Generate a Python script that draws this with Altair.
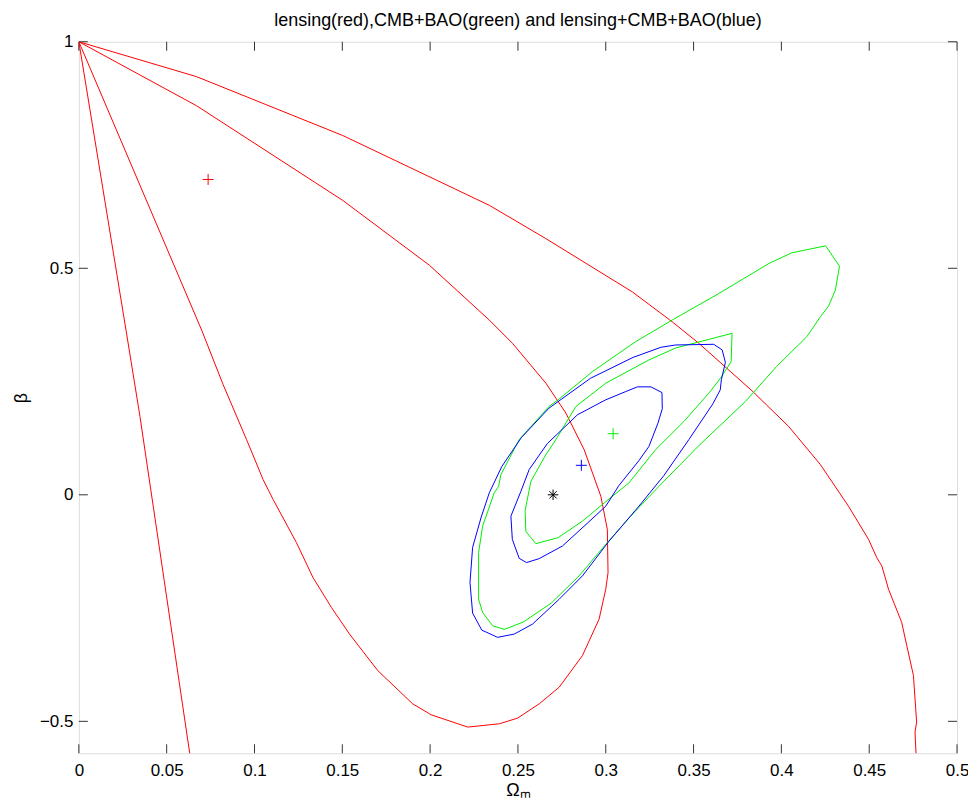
import altair as alt
import pandas as pd

# ---------------- data ----------------
# red: lensing contours
red_a_x = [0.0, 0.067, 0.1503, 0.2337, 0.2659, 0.3151, 0.3378, 0.3530, 0.3833, 0.4041,
           0.4222, 0.4382, 0.4496, 0.4543, 0.4572, 0.4610, 0.4685, 0.4714, 0.4752, 0.4761,
           0.4770, 0.4761, 0.4767]
red_a_y = [1.0, 0.923, 0.793, 0.639, 0.5655, 0.448, 0.382, 0.3344, 0.2295, 0.151,
           0.0667, -0.0251, -0.0983, -0.1386, -0.157, -0.2084, -0.2816, -0.3331, -0.399, -0.4504,
           -0.5017, -0.5237, -0.575]

red_b_x = [0.0, 0.067, 0.1503, 0.1996, 0.2337, 0.2469, 0.2659, 0.2773, 0.2877, 0.2972,
           0.3009, 0.3013, 0.3000, 0.2962, 0.2867, 0.2735, 0.2621, 0.2498, 0.2394, 0.2214,
           0.2006, 0.1901, 0.1702, 0.1541, 0.1438, 0.1333, 0.1239, 0.1106, 0.1049, 0.0955,
           0.0822, 0.0699, 0.0]
red_b_y = [1.0, 0.8588, 0.6497, 0.5067, 0.3857, 0.3344, 0.2464, 0.1804, 0.0997, -0.0031,
           -0.0763, -0.1716, -0.2084, -0.2744, -0.3551, -0.4246, -0.4614, -0.4929, -0.5054, -0.5127,
           -0.4856, -0.4614, -0.3881, -0.3074, -0.2486, -0.1826, -0.1056, -0.0103, 0.0337, 0.1217,
           0.2427, 0.3637, 1.0]

red_c_x = [0.0, 0.0273, 0.0348, 0.0633]
red_c_y = [1.0, 0.3527, 0.1729, -0.575]

# green: CMB+BAO contours
green_out_x = [0.4252, 0.4331, 0.4307, 0.4269, 0.4222, 0.4145, 0.3973, 0.3795, 0.3530, 0.3303,
               0.3142, 0.3000, 0.2848, 0.2689, 0.2530, 0.2422, 0.2356, 0.2299, 0.2276, 0.2276,
               0.2299, 0.2365, 0.2390, 0.2403, 0.2507, 0.2677, 0.2729, 0.2924, 0.3170, 0.3378,
               0.3644, 0.3928, 0.4060, 0.4252]
green_out_y = [0.5496, 0.5045, 0.4517, 0.4165, 0.393, 0.349, 0.2834, 0.2059, 0.1085, 0.0189,
               -0.0471, -0.1094, -0.1791, -0.2392, -0.281, -0.297, -0.2891, -0.2596, -0.2304, -0.1276,
               -0.0691, 0.0044, 0.0189, 0.0447, 0.1217, 0.1949, 0.2097, 0.2719, 0.338, 0.3857,
               0.4444, 0.5104, 0.5342, 0.5496]

green_in_x = [0.3719, 0.3714, 0.3653, 0.3587, 0.3445, 0.3284, 0.3132, 0.2981, 0.2867, 0.2729,
              0.2602, 0.2545, 0.2541, 0.2574, 0.2659, 0.2716, 0.2830, 0.3000, 0.3246, 0.3398,
              0.3719]
green_in_y = [0.3564, 0.2939, 0.2574, 0.2244, 0.1619, 0.0997, 0.0264, -0.0213, -0.0581, -0.0946,
              -0.1078, -0.0807, -0.0345, 0.0299, 0.0887, 0.1217, 0.1949, 0.2464, 0.2977, 0.3241,
              0.3564]

# blue: lensing+CMB+BAO contours
blue_out_x = [0.3615, 0.3663, 0.3681, 0.3658, 0.3652, 0.3610, 0.3473, 0.3331, 0.3189, 0.3019,
              0.2867, 0.2735, 0.2583, 0.2479, 0.2384, 0.2294, 0.2242, 0.2227, 0.2242, 0.2291,
              0.2337, 0.2408, 0.2519, 0.2677, 0.2914, 0.3155, 0.3314, 0.3398, 0.3615]
blue_out_y = [0.3322, 0.3197, 0.2922, 0.2537, 0.2317, 0.2009, 0.1217, 0.0425, -0.0251, -0.1021,
              -0.1791, -0.2304, -0.2854, -0.3074, -0.3146, -0.2986, -0.2612, -0.1936, -0.116, -0.049,
              0.0044, 0.0623, 0.1261, 0.1914, 0.2574, 0.3032, 0.3256, 0.3307, 0.3322]

blue_in_x = [0.3180, 0.3257, 0.3320, 0.3322, 0.3297, 0.3246, 0.3189, 0.3075, 0.3000, 0.2894,
             0.2753, 0.2621, 0.2549, 0.2507, 0.2468, 0.2460, 0.2517, 0.2564, 0.2667, 0.2839,
             0.3000, 0.3114, 0.3180]
blue_in_y = [0.2383, 0.2383, 0.2257, 0.1899, 0.158, 0.1069, 0.0755, 0.0205, -0.0251, -0.0632,
             -0.1131, -0.1408, -0.1496, -0.1402, -0.0983, -0.0471, 0.0079, 0.0557, 0.1129, 0.1767,
             0.2097, 0.2279, 0.2383]

# best-fit markers
plus_x = [0.0736, 0.3042, 0.2861]
plus_y = [0.696, 0.1349, 0.0651]
plus_c = ["red", "green", "blue"]
star_x = [0.270]
star_y = [0.0]

x_ticks = [0, 0.05, 0.1, 0.15, 0.2, 0.25, 0.3, 0.35, 0.4, 0.45, 0.5]
y_ticks = [-0.5, 0, 0.5, 1]

title_text = "lensing(red),CMB+BAO(green) and lensing+CMB+BAO(blue)"

# ---------------- build table ----------------
curves = [
    ("red_a", "red", red_a_x, red_a_y),
    ("red_b", "red", red_b_x, red_b_y),
    ("red_c", "red", red_c_x, red_c_y),
    ("green_out", "green", green_out_x, green_out_y),
    ("green_in", "green", green_in_x, green_in_y),
    ("blue_out", "blue", blue_out_x, blue_out_y),
    ("blue_in", "blue", blue_in_x, blue_in_y),
]
rows = []
for name, col, xs, ys in curves:
    for i, (a, b) in enumerate(zip(xs, ys)):
        rows.append({"curve": name, "c": col, "x": a, "y": b, "o": i})
lines_df = pd.DataFrame(rows)
plus_df = pd.DataFrame({"x": plus_x, "y": plus_y, "c": plus_c})
star_df = pd.DataFrame({"x": star_x, "y": star_y})
xt_df = pd.DataFrame({"v": x_ticks})
yt_df = pd.DataFrame({"v": y_ticks})

W, H = 880, 713
FONT = "Liberation Sans"

xscale = alt.Scale(domain=[0, 0.5], nice=False, zero=False)
yscale = alt.Scale(domain=[-0.5705, 1], nice=False, zero=False)
cscale = alt.Scale(domain=["red", "green", "blue"], range=["#ff0000", "#00ee00", "#0000ff"])

xaxis = alt.Axis(values=x_ticks, format="~g", title="Ωₘ", ticks=False, tickSize=0,
                 domain=False, grid=False, labelPadding=9, titlePadding=3, labelFlush=False,
                 labelFontSize=17, titleFontSize=18, labelFont=FONT, titleFont=FONT,
                 titleFontWeight="normal", labelColor="black", titleColor="black")
yaxis = alt.Axis(values=y_ticks, format="~g", title="β", ticks=False, tickSize=0,
                 domain=False, grid=False, labelPadding=6, titlePadding=9, labelFlush=False,
                 labelFontSize=17, titleFontSize=18, labelFont=FONT, titleFont=FONT,
                 titleFontWeight="normal", labelColor="black", titleColor="black")

lines = alt.Chart(lines_df).mark_line(strokeWidth=1, clip=True).encode(
    x=alt.X("x:Q", scale=xscale, axis=xaxis),
    y=alt.Y("y:Q", scale=yscale, axis=yaxis),
    color=alt.Color("c:N", scale=cscale, legend=None),
    detail="curve:N",
    order="o:Q",
)

plus = alt.Chart(plus_df).mark_point(
    shape="M-1,0L1,0M0,-1L0,1", filled=False, size=121, strokeWidth=1, opacity=1
).encode(
    x=alt.X("x:Q", scale=xscale),
    y=alt.Y("y:Q", scale=yscale),
    color=alt.Color("c:N", scale=cscale, legend=None),
)

star = alt.Chart(star_df).mark_point(
    shape="M-1,0L1,0M0,-1L0,1M-0.7,-0.7L0.7,0.7M-0.7,0.7L0.7,-0.7",
    filled=False, size=110, strokeWidth=1, color="black", opacity=1
).encode(
    x=alt.X("x:Q", scale=xscale),
    y=alt.Y("y:Q", scale=yscale),
)

TL = 9
tick_col = "#333333"
xt_bottom = alt.Chart(xt_df).mark_rule(color=tick_col, strokeWidth=1).encode(
    x=alt.X("v:Q", scale=xscale), y=alt.value(H), y2=alt.value(H - TL))
xt_top = alt.Chart(xt_df).mark_rule(color=tick_col, strokeWidth=1).encode(
    x=alt.X("v:Q", scale=xscale), y=alt.value(0), y2=alt.value(TL))
yt_left = alt.Chart(yt_df).mark_rule(color=tick_col, strokeWidth=1).encode(
    y=alt.Y("v:Q", scale=yscale), x=alt.value(0), x2=alt.value(TL))
yt_right = alt.Chart(yt_df).mark_rule(color=tick_col, strokeWidth=1).encode(
    y=alt.Y("v:Q", scale=yscale), x=alt.value(W), x2=alt.value(W - TL))

chart = alt.layer(xt_bottom, xt_top, yt_left, yt_right, lines, plus, star).properties(
    width=W, height=H,
    title=alt.TitleParams(title_text, font=FONT, fontSize=18, fontWeight="normal",
                          color="black", anchor="middle", offset=3),
    autosize=alt.AutoSizeParams(type="none"),
    padding={"left": 71, "top": 33, "right": 11, "bottom": 48},
).configure_view(stroke="black", strokeWidth=1.2).configure(background="white")

chart.save("out.html", embed_options={"renderer": "svg", "actions": False})
